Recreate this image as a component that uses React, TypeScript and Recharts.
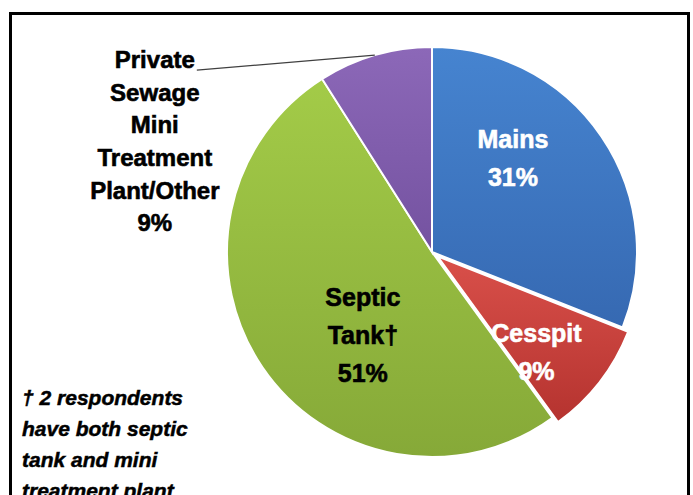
import React from 'react';
import { PieChart, Pie, Cell } from 'recharts';

// slice data (clockwise from 12 o'clock)
const categories = ['Mains', 'Cesspit', 'Septic Tank†', 'Private Sewage Mini Treatment Plant/Other'];
const shares = [31, 9, 51, 9];
const labelLines = [
  ['Mains', '31%'],
  ['Cesspit', '9%'],
  ['Septic', 'Tank†', '51%'],
  ['Private', 'Sewage', 'Mini', 'Treatment', 'Plant/Other', '9%'],
];
const footnoteLines = ['† 2 respondents', 'have both septic', 'tank and mini', 'treatment plant'];

const gradients = [
  { id: 'gMains', top: '#4684d0', bottom: '#3669b2' },
  { id: 'gCess', top: '#d9504a', bottom: '#b5332f' },
  { id: 'gSeptic', top: '#a3cb48', bottom: '#86a938' },
  { id: 'gOther', top: '#8c68b8', bottom: '#7452a0' },
];
const labelColors = ['#ffffff', '#ffffff', '#000000', '#000000'];

const pieData = categories.map((name, i) => ({ name, value: shares[i] }));

const W = 693;
const H = 495;
const CX = 432;
const CY = 252;
const R = 205;
const EXPLODED = 1; // cesspit slice pulled out
const RAD = Math.PI / 180;
const FONT = "'Liberation Sans', Arial, sans-serif";

// where each inside label's first baseline sits (radius, angle nudge)
const labelLayout = [
  { r: 132, nudge: 18, lh: 38 },
  { r: 138, nudge: -3, lh: 38 },
  { r: 88, nudge: 4, lh: 38 },
];

const renderLabel = (props: any) => {
  const { cx, cy, midAngle, outerRadius, index } = props;
  const lines = labelLines[index];
  if (index === 3) {
    // outside label with leader line
    const ex = cx + outerRadius * Math.cos(-midAngle * RAD);
    const ey = cy + outerRadius * Math.sin(-midAngle * RAD);
    const lx = ex - 178;
    const ly = ey + 15;
    return (
      <g key="lbl-3">
        <line x1={ex} y1={ey} x2={lx} y2={ly} stroke="#404040" strokeWidth={1.2} />
        <text x={lx - 42} y={ly - 2} textAnchor="middle" fontFamily={FONT} fontWeight="bold" fontSize={24}
          fill="#000" stroke="#000" strokeWidth={0.6}>
          {lines.map((t, i) => (
            <tspan key={i} x={lx - 42} dy={i === 0 ? 0 : 32.6}>{t}</tspan>
          ))}
        </text>
      </g>
    );
  }
  const lay = labelLayout[index];
  const a = (midAngle + lay.nudge) * RAD;
  const x = cx + lay.r * Math.cos(-a);
  const y = cy + lay.r * Math.sin(-a);
  return (
    <text key={`lbl-${index}`} x={x} y={y} textAnchor="middle" fontFamily={FONT} fontWeight="bold" fontSize={25}
      fill={labelColors[index]} stroke={labelColors[index]} strokeWidth={0.6}>
      {lines.map((t, i) => (
        <tspan key={i} x={x} dy={i === 0 ? 0 : lay.lh}>{t}</tspan>
      ))}
    </text>
  );
};

// offset for the exploded slice, along its mid angle
const explodeOffset = () => {
  const total = shares.reduce((s, v) => s + v, 0);
  const before = shares.slice(0, EXPLODED).reduce((s, v) => s + v, 0);
  const mid = 90 - ((before + shares[EXPLODED] / 2) / total) * 360;
  return { dx: 7 * Math.cos(-mid * RAD), dy: 7 * Math.sin(-mid * RAD) };
};

const App: React.FC = () => {
  const off = explodeOffset();
  return (
    <div style={{ position: 'absolute', left: 0, top: 0, width: W, height: H, background: '#fff', overflow: 'hidden' }}>
      <div
        style={{
          position: 'absolute',
          left: 9,
          top: 12,
          width: 681,
          height: H - 12,
          border: '3px solid #000',
          borderBottom: 'none',
          boxSizing: 'border-box',
        }}
      />
      <div style={{ position: 'absolute', left: 0, top: 0 }}>
        <PieChart width={W} height={H} margin={{ top: 0, right: 0, bottom: 0, left: 0 }}>
          <defs>
            {gradients.map((g) => (
              <linearGradient key={g.id} id={g.id} x1="0" y1="0" x2="0" y2="1">
                <stop offset="0%" stopColor={g.top} />
                <stop offset="100%" stopColor={g.bottom} />
              </linearGradient>
            ))}
          </defs>
          <Pie
            data={pieData}
            dataKey="value"
            nameKey="name"
            cx={CX + off.dx}
            cy={CY + off.dy}
            outerRadius={R}
            startAngle={90}
            endAngle={-270}
            stroke="#fff"
            strokeWidth={2}
            label={false}
            labelLine={false}
            isAnimationActive={false}
          >
            {pieData.map((d, i) => (
              <Cell key={`e-${i}`} fill={i === EXPLODED ? `url(#${gradients[i].id})` : 'none'} stroke={i === EXPLODED ? '#fff' : 'none'} />
            ))}
          </Pie>
          <Pie
            data={pieData}
            dataKey="value"
            nameKey="name"
            cx={CX}
            cy={CY}
            outerRadius={R}
            startAngle={90}
            endAngle={-270}
            stroke="#fff"
            strokeWidth={2}
            label={renderLabel}
            labelLine={false}
            isAnimationActive={false}
          >
            {pieData.map((d, i) => (
              <Cell key={`c-${i}`} fill={i === EXPLODED ? 'none' : `url(#${gradients[i].id})`} stroke={i === EXPLODED ? 'none' : '#fff'} />
            ))}
          </Pie>
          <text x={22} y={405} fontFamily={FONT} fontWeight="bold" fontStyle="italic" fontSize={21}
            fill="#000" stroke="#000" strokeWidth={0.5}>
            {footnoteLines.map((t, i) => (
              <tspan key={i} x={22} dy={i === 0 ? 0 : 31}>{t}</tspan>
            ))}
          </text>
        </PieChart>
      </div>
    </div>
  );
};

export default App;
